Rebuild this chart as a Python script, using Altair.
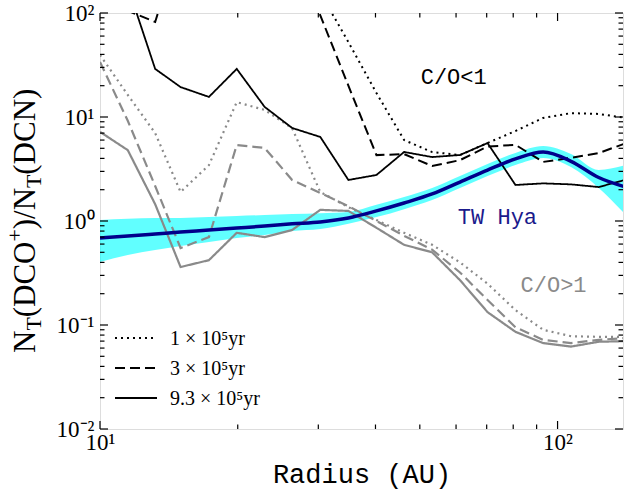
import altair as alt
import pandas as pd

# ---------------- data ----------------
radius_au = [10.0, 11.5, 13.2, 15.0, 17.3, 19.9, 22.9, 26.3, 30.3, 34.9,
             40.2, 46.2, 53.2, 61.2, 70.3, 80.9, 93.0, 107.0, 123.0, 141.0]

# C/O < 1 models (black)
co_lt1_1e5 = [500, 500, 500, 500, 500, 500, 500, 500, 156, 52.6,
              17.0, 6.0, 4.6, 4.31, 5.62, 7.33, 9.8, 10.9, 10.7, 9.8]
co_lt1_3e5 = [150, 105, 82, 500, 500, 500, 500, 400, 95, 20,
              4.3, 4.4, 3.38, 3.85, 5.2, 5.4, 3.7, 4.04, 4.5, 5.6]
co_lt1_93e5 = [300, 180, 29.0, 19.4, 15.6, 29.0, 12.5, 7.84, 6.43, 2.48,
               2.77, 4.61, 4.12, 4.31, 5.62, 2.22, 2.30, 2.25, 2.12, 2.50]

# C/O > 1 models (gray)
co_gt1_1e5 = [39.5, 16.3, 7.0, 1.9, 3.45, 13.9, 11.7, 7.8, 1.9, 1.36,
              1.02, 0.77, 0.59, 0.40, 0.25, 0.139, 0.090, 0.078, 0.077, 0.077]
co_gt1_3e5 = [33.8, 9.2, 2.17, 0.55, 0.70, 5.38, 5.04, 2.48, 1.86, 1.39,
              1.0, 0.72, 0.53, 0.32, 0.174, 0.095, 0.072, 0.067, 0.072, 0.075]
co_gt1_93e5 = [7.2, 4.8, 1.45, 0.361, 0.42, 0.77, 0.70, 0.82, 1.28, 1.25,
               0.86, 0.59, 0.50, 0.27, 0.133, 0.086, 0.067, 0.062, 0.069, 0.070]

# TW Hya observed ratio and its uncertainty band
tw_hya = [0.687, 0.717, 0.75, 0.783, 0.819, 0.856, 0.895, 0.94, 0.98, 1.07,
          1.25, 1.49, 1.82, 2.37, 3.09, 3.95, 4.6, 3.75, 2.62, 2.12]
tw_hya_low = [0.404, 0.471, 0.526, 0.575, 0.628, 0.687, 0.733, 0.80, 0.838, 0.94,
              1.09, 1.30, 1.59, 2.08, 2.71, 3.45, 4.03, 3.30, 2.08, 1.14]
tw_hya_high = [1.02, 1.05, 1.07, 1.07, 1.09, 1.12, 1.14, 1.17, 1.19, 1.22,
               1.43, 1.70, 2.08, 2.71, 3.53, 4.51, 5.26, 4.41, 3.10, 3.45]

legend_labels = ["1 \u00d7 10\u2075yr", "3 \u00d7 10\u2075yr", "9.3 \u00d7 10\u2075yr"]

x_major_ticks = [10, 100]
x_minor_ticks = [20, 30, 40, 50, 60, 70, 80, 90]
y_major_ticks = [0.01, 0.1, 1, 10, 100]
y_minor_ticks = [0.02, 0.03, 0.04, 0.05, 0.06, 0.07, 0.08, 0.09,
                 0.2, 0.3, 0.4, 0.5, 0.6, 0.7, 0.8, 0.9,
                 2, 3, 4, 5, 6, 7, 8, 9,
                 20, 30, 40, 50, 60, 70, 80, 90]

annot_text = ["C/O<1", "TW Hya", "C/O>1"]
annot_r = [59.3, 73.9, 98.0]
annot_v = [24.3, 1.09, 0.243]
annot_color = ["#000000", "#1a1a8c", "#8a8a8a"]

# ---------------- layout constants ----------------
W, H = 523, 416
SERIF = "Liberation Serif"
MONO = "Liberation Mono"
DOT = [2, 4]
DASH = [10, 5]
GRAY = "#8a8a8a"

xscale = alt.Scale(type="log", domain=[10, 139], nice=False)
yscale = alt.Scale(type="log", domain=[0.01, 100], nice=False)

xaxis = alt.Axis(
    values=x_major_ticks,
    labelExpr="datum.value < 50 ? '10\u00b9' : '10\u00b2'",
    title="Radius (AU)", titleFont=MONO, titleFontSize=27, titleFontWeight="normal",
    titleColor="black", titleY=53, titleBaseline="alphabetic",
    labelFont=SERIF, labelFontSize=23, labelColor="black", labelPadding=2,
    labelFlush=False, labelOverlap=False, labelBound=False,
    tickSize=0, domain=False, grid=False,
)
yaxis = alt.Axis(
    values=y_major_ticks,
    labelExpr=("datum.value > 50 ? '10\u00b2' : datum.value > 5 ? '10\u00b9' : "
               "datum.value > 0.5 ? '10\u2070' : datum.value > 0.05 ? '10\u207b\u00b9' : '10\u207b\u00b2'"),
    title=None,
    labelFont=SERIF, labelFontSize=23, labelColor="black", labelPadding=6,
    labelOverlap=False, labelBound=False, labelFlush=False,
    tickSize=0, domain=False, grid=False,
)


def X(f):
    return alt.X(f"{f}:Q", scale=xscale, axis=xaxis)


def Y(f):
    return alt.Y(f"{f}:Q", scale=yscale, axis=yaxis)


def series_df(vals):
    return pd.DataFrame({"r": radius_au, "v": vals})


layers = []

# uncertainty band
band_df = pd.DataFrame({"r": radius_au, "lo": tw_hya_low, "hi": tw_hya_high})
layers.append(
    alt.Chart(band_df).mark_area(color="#00ffff", opacity=0.62, interpolate="monotone", clip=True)
    .encode(x=X("r"), y=Y("lo"), y2="hi:Q")
)

# model lines
model_specs = [
    (co_gt1_1e5, GRAY, DOT, 2.2),
    (co_gt1_3e5, GRAY, DASH, 2.2),
    (co_gt1_93e5, GRAY, [1, 0], 2.2),
    (co_lt1_1e5, "black", DOT, 2.0),
    (co_lt1_3e5, "black", DASH, 2.0),
    (co_lt1_93e5, "black", [1, 0], 1.8),
]
for vals, col, dash, sw in model_specs:
    layers.append(
        alt.Chart(series_df(vals)).mark_line(color=col, strokeDash=dash, strokeWidth=sw, clip=True)
        .encode(x=X("r"), y=Y("v"))
    )

# TW Hya line
layers.append(
    alt.Chart(series_df(tw_hya)).mark_line(color="#00008b", strokeWidth=3.5, interpolate="monotone", clip=True)
    .encode(x=X("r"), y=Y("v"))
)

# annotations
for t, r, v, c in zip(annot_text, annot_r, annot_v, annot_color):
    layers.append(
        alt.Chart(pd.DataFrame({"r": [r], "v": [v], "t": [t]}))
        .mark_text(font=MONO, fontSize=22, color=c, align="center", baseline="middle")
        .encode(x=X("r"), y=Y("v"), text="t:N")
    )

# inward ticks on all four sides
tx_major = pd.DataFrame({"t": x_major_ticks})
tx_minor = pd.DataFrame({"t": x_minor_ticks})
ty_major = pd.DataFrame({"t": y_major_ticks})
ty_minor = pd.DataFrame({"t": y_minor_ticks})
for df, ln in [(tx_major, 8), (tx_minor, 4.5)]:
    layers.append(alt.Chart(df).mark_rule(color="black", strokeWidth=1.2)
                  .encode(x=X("t"), y=alt.value(H), y2=alt.value(H - ln)))
    layers.append(alt.Chart(df).mark_rule(color="black", strokeWidth=1.2)
                  .encode(x=X("t"), y=alt.value(0), y2=alt.value(ln)))
for df, ln in [(ty_major, 8), (ty_minor, 4.5)]:
    layers.append(alt.Chart(df).mark_rule(color="black", strokeWidth=1.2)
                  .encode(y=Y("t"), x=alt.value(0), x2=alt.value(ln)))
    layers.append(alt.Chart(df).mark_rule(color="black", strokeWidth=1.2)
                  .encode(y=Y("t"), x=alt.value(W), x2=alt.value(W - ln)))

# hand-made legend (bottom-left)
dummy = pd.DataFrame({"a": [0]})
for i, (lab, dash) in enumerate(zip(legend_labels, [DOT, DASH, [1, 0]])):
    yy = 325 + 30 * i
    layers.append(alt.Chart(dummy).mark_rule(color="black", strokeWidth=2.2, strokeDash=dash)
                  .encode(x=alt.value(15), x2=alt.value(57), y=alt.value(yy)))
    layers.append(alt.Chart(dummy).mark_text(font=SERIF, fontSize=20, color="black",
                                             align="left", baseline="middle")
                  .encode(x=alt.value(70), y=alt.value(yy + 1), text=alt.value(lab)))

# y-axis title with sub/superscripts, built from pieces
title_pieces = [
    ("N", -65, 340, 31),
    ("T", -59, 317.6, 21.7),
    ("(DCO", -65, 304.3, 31),
    ("+", -78, 228.5, 21.7),
    (")/N", -65, 216.3, 31),
    ("T", -59, 175.0, 21.7),
    ("(DCN)", -65, 161.7, 31),
]
for txt, px, py, fs in title_pieces:
    layers.append(alt.Chart(dummy).mark_text(font=SERIF, fontSize=fs, color="black", angle=270,
                                             align="left", baseline="alphabetic")
                  .encode(x=alt.value(px), y=alt.value(py), text=alt.value(txt)))

chart = alt.layer(*layers).properties(
    width=W, height=H,
    padding={"left": 100, "top": 13, "right": 1, "bottom": 60},
    autosize=alt.AutoSizeParams(type="none"),
).configure_view(stroke="black", strokeWidth=1.5).configure(background="white")

chart.save("out.html", embed_options={"renderer": "svg", "actions": False})
